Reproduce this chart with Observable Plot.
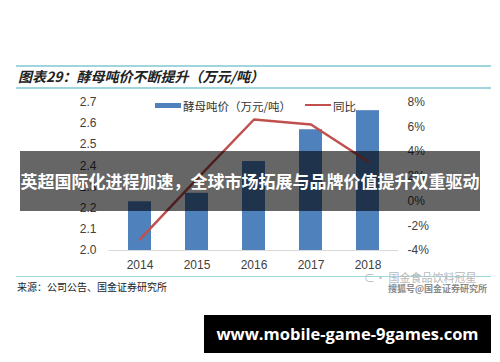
<!DOCTYPE html>
<html><head><meta charset="utf-8">
<script src="https://cdn.jsdelivr.net/npm/d3@7"></script>
<script src="https://cdn.jsdelivr.net/npm/@observablehq/plot@0.6"></script>
<style>
html,body{margin:0;padding:0;background:#fff;}
#wrap{position:relative;width:500px;height:362px;overflow:hidden;background:#fff;font-family:"Noto Sans CJK SC","Noto Sans",sans-serif;}
#chart{position:absolute;left:0;top:0;}
.abs{position:absolute;white-space:nowrap;}
</style></head>
<body>
<div id="wrap">
  <div id="chart"></div>
  <div class="abs" style="left:16px;top:65px;width:475px;height:0;border-top:2px solid #9fd6de;"></div>
  <div class="abs" style="left:16px;top:87px;width:475px;height:0;border-top:2px solid #9fd6de;"></div>
  <div class="abs" id="title" style="left:18px;top:66px;line-height:20px;font-size:14px;font-style:italic;font-weight:bold;color:#222;"></div>
  <div class="abs" style="left:155px;top:103px;width:26px;height:5px;background:#4f81bd;"></div>
  <div class="abs" id="leg1" style="left:183px;top:98px;line-height:16px;font-size:11.5px;color:#333;"></div>
  <div class="abs" style="left:305px;top:104px;width:26px;height:0;border-top:2.5px solid #c0504d;"></div>
  <div class="abs" id="leg2" style="left:333px;top:98px;line-height:16px;font-size:11.5px;color:#333;"></div>
  <div class="abs" style="left:16px;top:276px;width:475px;height:0;border-top:1.5px solid #9fd6de;"></div>
  <div class="abs" id="source" style="left:17px;top:279px;line-height:16px;font-size:10px;color:#222;"></div>
  <div class="abs" id="wm1" style="left:364px;top:270px;line-height:14px;font-size:11px;color:#b8b8b8;"></div>
  <div class="abs" id="wm2" style="left:388px;top:282px;line-height:14px;font-size:9px;font-weight:bold;color:#8a8a8a;"></div>
  <div class="abs" style="left:20px;top:151px;width:460px;height:60px;background:rgba(0,0,0,0.6);"></div>
  <div class="abs" id="banner" style="left:20px;top:151px;width:460px;height:60px;line-height:60px;text-align:center;font-size:17px;font-weight:bold;color:#fff;"></div>
  <div class="abs" id="site" style="left:204px;top:315px;width:287px;height:38px;line-height:38px;background:#000;color:#fff;text-align:center;font-family:'Open Sans',sans-serif;font-weight:bold;font-size:16.5px;"></div>
</div>
<script>
const years = ["2014","2015","2016","2017","2018"];
const price = [2.23, 2.27, 2.42, 2.57, 2.66];
const yoy = [-3.1, 1.8, 6.6, 6.2, 3.2];
const leftTicks = [2.0, 2.1, 2.2, 2.3, 2.4, 2.5, 2.6, 2.7];
const rightTicks = [-4, -2, 0, 2, 4, 6, 8];
const titleText = "图表29：酵母吨价不断提升（万元/吨）";
const seriesNames = ["酵母吨价（万元/吨）", "同比"];
const sourceText = "来源：公司公告、国金证券研究所";
const watermark = ["国金食品饮料冠星", "搜狐号@国金证券研究所"];
const bannerText = "英超国际化进程加速，全球市场拓展与品牌价值提升双重驱动";
const siteText = "www.mobile-game-9games.com";

const yLo = 2.0, yHi = 2.7, pLo = -4, pHi = 8;
const toY = p => yLo + (p - pLo) / (pHi - pLo) * (yHi - yLo);

const barData = years.map((y, i) => ({year: y, v: price[i]}));
const lineData = years.map((y, i) => ({year: y, v: toY(yoy[i])}));

const chart = Plot.plot({
  width: 500, height: 362,
  marginTop: 101.7, marginBottom: 112, marginLeft: 108.5, marginRight: 102,
  style: {fontFamily: "'Liberation Sans', Arial, sans-serif", fontSize: "12px", color: "#404040", background: "transparent"},
  x: {type: "band", domain: years, paddingInner: 0.6, paddingOuter: 0.3, axis: null},
  y: {domain: [yLo, yHi], axis: null},
  marks: [
    Plot.barY(barData, {x: "year", y1: yLo, y2: "v", fill: "#4f81bd"}),
    Plot.ruleY([yLo], {stroke: "#d9d9d9", strokeWidth: 1}),
    Plot.lineY(lineData, {x: "year", y: "v", stroke: "#c0504d", strokeWidth: 2.5}),
    Plot.axisX({tickSize: 0, tickPadding: 10, fontSize: 12, label: null}),
    Plot.axisY(leftTicks, {anchor: "left", tickSize: 0, tickPadding: 12.5, tickFormat: d3.format(".1f"), label: null, fontSize: 12}),
    Plot.axisY(rightTicks.map(toY), {anchor: "right", tickSize: 0, tickPadding: 9, label: null, fontSize: 12,
      tickFormat: (d) => Math.round((d - yLo) / (yHi - yLo) * (pHi - pLo) + pLo) + "%"})
  ]
});
document.getElementById("chart").appendChild(chart);
document.getElementById("title").textContent = titleText;
document.getElementById("leg1").textContent = seriesNames[0];
document.getElementById("leg2").textContent = seriesNames[1];
document.getElementById("source").textContent = sourceText;
document.getElementById("wm1").textContent = "⊂· " + watermark[0];
document.getElementById("wm2").textContent = watermark[1];
document.getElementById("banner").textContent = bannerText;
document.getElementById("site").textContent = siteText;
</script>
</body></html>
